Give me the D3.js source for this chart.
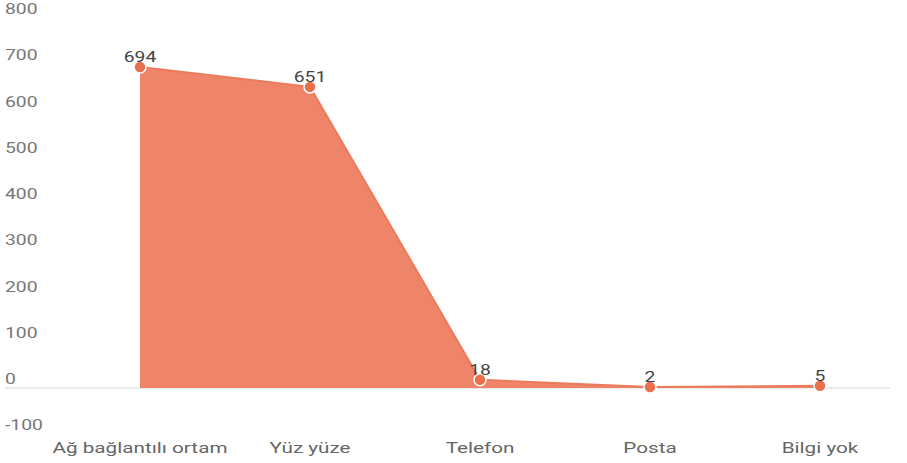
<!DOCTYPE html>
<html>
<head>
<meta charset="utf-8">
<script src="https://cdn.jsdelivr.net/npm/d3@7"></script>
<style>
   body { margin: 0; background: #fff; }
   svg { display: block; font-family: Roboto, "Open Sans", sans-serif; }
</style>
</head>
<body>
<div id="chart"></div>
<script>
// DATA
var categories = ['Ağ bağlantılı ortam', 'Yüz yüze', 'Telefon', 'Posta', 'Bilgi yok'];
var values = [694, 651, 18, 2, 5];
var yTicks = [-100, 0, 100, 200, 300, 400, 500, 600, 700, 800];

// TEXT IN THE PICTURE LOOKS STRETCHED SIDEWAYS
var stretch = 1.38;

// CANVAS
var width = 907, height = 463;
var svg = d3.select('#chart').append('svg')
   .attr('width', width)
   .attr('height', height);

// SCALES
var xScale = d3.scalePoint()
   .domain(categories)
   .range([140, 820]);

var yScale = d3.scaleLinear()
   .domain([-100, 800])
   .range([434.25, 18]);

// Y LABELS (SIT ABOVE THEIR GRID POSITION)
svg.selectAll('.ylab')
   .data(yTicks)
   .enter().append('text')
      .attr('class', 'ylab')
      .attr('transform', d => 'translate(5,' + (yScale(d) - 4) + ') scale(' + stretch + ',1)')
      .attr('fill', '#777')
      .attr('font-size', 14)
      .text(d => d);

// ZERO LINE
svg.append('line')
   .attr('x1', 5)
   .attr('x2', 890)
   .attr('y1', yScale(0))
   .attr('y2', yScale(0))
   .attr('stroke', '#e3e3e3')
   .attr('stroke-width', 1.5);

// AREA
var area = d3.area()
   .x((d, i) => xScale(categories[i]))
   .y0(yScale(0))
   .y1(d => yScale(d));

svg.append('path')
   .attr('d', area(values))
   .attr('fill', '#ee8468');

var line = d3.line()
   .x((d, i) => xScale(categories[i]))
   .y(d => yScale(d));

svg.append('path')
   .attr('d', line(values))
   .attr('fill', 'none')
   .attr('stroke', '#ec7b5d')
   .attr('stroke-width', 2);

// POINTS
svg.selectAll('circle')
   .data(values)
   .enter().append('circle')
      .attr('cx', (d, i) => xScale(categories[i]))
      .attr('cy', d => yScale(d))
      .attr('r', 6)
      .attr('fill', '#e9704f')
      .attr('stroke', '#fff')
      .attr('stroke-width', 1.5);

// VALUE LABELS
svg.selectAll('.vlab')
   .data(values)
   .enter().append('text')
      .attr('class', 'vlab')
      .attr('transform', (d, i) => 'translate(' + xScale(categories[i]) + ',' + (yScale(d) - 5) + ') scale(' + stretch + ',1)')
      .attr('text-anchor', 'middle')
      .attr('fill', '#444')
      .attr('font-size', 14)
      .text(d => d);

// X LABELS
svg.selectAll('.xlab')
   .data(categories)
   .enter().append('text')
      .attr('class', 'xlab')
      .attr('transform', d => 'translate(' + xScale(d) + ',453) scale(' + stretch + ',1)')
      .attr('text-anchor', 'middle')
      .attr('fill', '#666')
      .attr('font-size', 15)
      .text(d => d);
</script>
</body>
</html>
